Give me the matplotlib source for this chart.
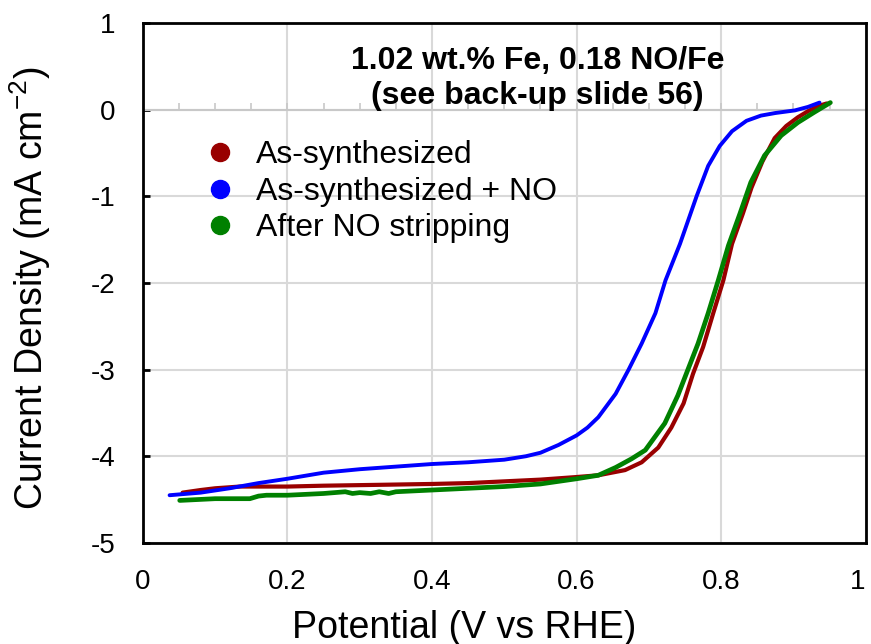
import numpy as np
import matplotlib
matplotlib.use("Agg")
import matplotlib.pyplot as plt
from matplotlib.lines import Line2D

plt.rcParams['font.family'] = ['Liberation Sans', 'DejaVu Sans']

# As-synthesized
v_red = [0.055, 0.08, 0.10, 0.134, 0.20, 0.25, 0.327, 0.40, 0.45, 0.50, 0.55, 0.60, 0.63, 0.667, 0.69,
         0.713, 0.731, 0.748, 0.761, 0.775, 0.789, 0.803, 0.815, 0.830, 0.842, 0.857, 0.874, 0.89,
         0.906, 0.92, 0.934, 0.946]
j_red = [-4.42, -4.39, -4.37, -4.35, -4.35, -4.34, -4.33, -4.32, -4.31, -4.29, -4.27, -4.24, -4.22, -4.16, -4.07,
         -3.90, -3.67, -3.39, -3.05, -2.74, -2.35, -1.97, -1.55, -1.20, -0.90, -0.60, -0.33, -0.19,
         -0.09, -0.02, 0.04, 0.07]
# As-synthesized + NO
v_blue = [0.037, 0.08, 0.12, 0.16, 0.20, 0.25, 0.30, 0.35, 0.40, 0.45, 0.50, 0.53, 0.55, 0.575, 0.60,
          0.615, 0.63, 0.654, 0.672, 0.69, 0.709, 0.723, 0.743, 0.766, 0.782, 0.798, 0.815, 0.835,
          0.855, 0.875, 0.902, 0.92, 0.936]
j_blue = [-4.45, -4.42, -4.37, -4.31, -4.26, -4.19, -4.15, -4.12, -4.09, -4.07, -4.04, -4.00, -3.96, -3.87, -3.76,
          -3.67, -3.55, -3.28, -3.00, -2.70, -2.35, -1.97, -1.55, -1.00, -0.65, -0.42, -0.25, -0.13,
          -0.07, -0.04, -0.01, 0.03, 0.08]
# After NO stripping
v_green = [0.051, 0.10, 0.148, 0.16, 0.171, 0.20, 0.25, 0.28, 0.29, 0.30, 0.315, 0.327, 0.34, 0.35, 0.40,
           0.45, 0.50, 0.55, 0.60, 0.63, 0.654, 0.676, 0.695, 0.722, 0.74, 0.754, 0.768, 0.782, 0.796,
           0.81, 0.826, 0.841, 0.86, 0.883, 0.906, 0.929, 0.951]
j_green = [-4.51, -4.49, -4.49, -4.46, -4.45, -4.45, -4.43, -4.41, -4.43, -4.42, -4.43, -4.41, -4.43, -4.41, -4.39,
           -4.37, -4.35, -4.32, -4.26, -4.22, -4.13, -4.03, -3.93, -3.62, -3.30, -3.00, -2.70, -2.35, -1.97,
           -1.57, -1.20, -0.84, -0.53, -0.30, -0.15, -0.03, 0.08]

labels = ["As-synthesized", "As-synthesized + NO", "After NO stripping"]
colors = ["#990000", "#0000ff", "#008000"]
x_ticks = [0, 0.2, 0.4, 0.6, 0.8, 1]
x_ticklabels = ["0", "0.2", "0.4", "0.6", "0.8", "1"]
y_ticks = [-5, -4, -3, -2, -1, 0, 1]
y_ticklabels = ["-5", "-4", "-3", "-2", "-1", "0", "1"]

fig = plt.figure(figsize=(8.71, 6.44), dpi=100)
ax = fig.add_axes([0.164, 0.157, 0.830, 0.8075])

ax.set_xlim(0, 1)
ax.set_ylim(-5, 1)
ax.set_xticks(x_ticks)
ax.set_xticklabels(x_ticklabels)
ax.set_yticks(y_ticks)
ax.set_yticklabels(y_ticklabels)
ax.grid(True, color="#d9d9d9", linewidth=1.5)
ax.set_axisbelow(True)

# horizontal axis through zero with minor ticks
ax.axhline(0, color="#c8c8c8", linewidth=1.5, zorder=1)
ax.vlines(np.arange(0, 1.0001, 0.05), 0, 0.08, color="#c8c8c8", linewidth=1.2, zorder=1)

ax.plot(v_red, j_red, color=colors[0], linewidth=3.0, solid_capstyle='round', zorder=3)
ax.plot(v_green, j_green, color=colors[2], linewidth=3.4, solid_capstyle='round', zorder=4)
ax.plot(v_blue, j_blue, color=colors[1], linewidth=2.8, solid_capstyle='round', zorder=5)

for s in ax.spines.values():
    s.set_linewidth(2)
    s.set_color("black")

ax.tick_params(axis='both', labelsize=20, direction='in', length=5, width=2)
ax.tick_params(axis='x', length=0, pad=19)
ax.tick_params(axis='y', pad=20)
last = ax.get_xticklabels()[-1]
last.set_ha('right')

ax.set_xlabel("Potential (V vs RHE)", fontsize=27, va='center')
ax.xaxis.set_label_coords(0.445, -0.163)
ax.set_ylabel("Current Density (mA cm$^{\\mathregular{-2}}$)", fontsize=27, va='center')
ax.yaxis.set_label_coords(-0.156, 0.49)

handles = [Line2D([], [], marker='o', linestyle='none', markersize=13, color=c) for c in colors]
ax.legend(handles, labels, loc='upper left', bbox_to_anchor=(0.0885, 0.774), frameon=False,
          fontsize=23, handlelength=0.8, handletextpad=0.75, labelspacing=0.2,
          borderaxespad=0, borderpad=0)

ax.text(0.546, 0.893, "1.02 wt.% Fe, 0.18 NO/Fe\n(see back-up slide 56)", transform=ax.transAxes,
        ha='center', va='center', fontsize=23, fontweight='bold', linespacing=1.25)

fig.savefig("out.png", dpi=100)
